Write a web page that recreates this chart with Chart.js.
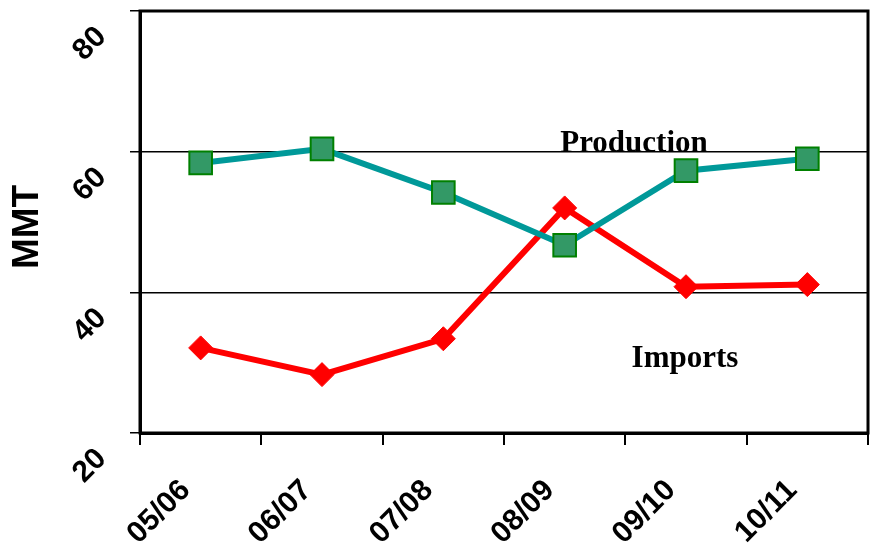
<!DOCTYPE html>
<html>
<head>
<meta charset="utf-8">
<script src="https://cdn.jsdelivr.net/npm/chart.js@4.4.1/dist/chart.umd.min.js"></script>
<style>
  html, body { margin: 0; padding: 0; background: #fff; }
  #wrap { width: 871px; height: 546px; }
</style>
</head>
<body>
<div id="wrap"><canvas id="mmtChart" width="871" height="546"></canvas></div>
<script>
const seasons = ['05/06', '06/07', '07/08', '08/09', '09/10', '10/11'];
const production = [58.4, 60.4, 54.2, 46.7, 57.3, 59.0];
const imports = [32.1, 28.3, 33.4, 52.0, 40.8, 41.1];
const yTicks = [20, 40, 60, 80];

// frame, rotated y labels, axis title and the two series captions
const extras = {
  id: 'extras',
  afterDraw(chart) {
    const { ctx, chartArea: a, scales } = chart;
    ctx.save();
    ctx.strokeStyle = '#000';
    ctx.lineWidth = 3;
    ctx.strokeRect(a.left, a.top, a.right - a.left, a.bottom - a.top);

    ctx.fillStyle = '#000';
    ctx.font = 'bold 30px "Liberation Sans", Arial, sans-serif';
    ctx.textAlign = 'center';
    ctx.textBaseline = 'middle';
    yTicks.forEach(v => {
      const y = scales.y.getPixelForValue(v);
      ctx.save();
      ctx.translate(90, y + 33);
      ctx.rotate(-Math.PI / 4);
      ctx.fillText(String(v), 0, 0);
      ctx.restore();
    });

    ctx.save();
    ctx.font = 'bold 37px "Liberation Sans", Arial, sans-serif';
    ctx.translate(28, 227);
    ctx.rotate(-Math.PI / 2);
    ctx.fillText('MMT', 0, 0);
    ctx.restore();

    ctx.font = 'bold 31px "Liberation Serif", "Times New Roman", serif';
    ctx.textBaseline = 'alphabetic';
    ctx.fillText('Production', 634, 152);
    ctx.fillText('Imports', 685, 367);
    ctx.restore();
  }
};

new Chart(document.getElementById('mmtChart'), {
  type: 'line',
  data: {
    labels: seasons,
    datasets: [
      {
        label: 'Production',
        data: production,
        borderColor: '#009999',
        borderWidth: 6,
        pointStyle: 'rect',
        pointRadius: 16,
        pointBackgroundColor: '#339966',
        pointBorderColor: '#008000',
        pointBorderWidth: 2,
        tension: 0
      },
      {
        label: 'Imports',
        data: imports,
        borderColor: '#ff0000',
        borderWidth: 6,
        pointStyle: 'rectRot',
        pointRadius: 12,
        pointBackgroundColor: '#ff0000',
        pointBorderColor: '#ff0000',
        pointBorderWidth: 1,
        tension: 0
      }
    ]
  },
  options: {
    responsive: false,
    animation: false,
    layout: { autoPadding: false, padding: { left: 0, top: 11, right: 3, bottom: 0 } },
    plugins: {
      legend: { display: false },
      tooltip: { enabled: false }
    },
    scales: {
      x: {
        offset: true,
        afterFit: s => {
          s.height = 113;
          s.paddingLeft = 0;
          s.paddingRight = 0;
        },
        grid: {
          offset: true,
          drawOnChartArea: false,
          drawTicks: true,
          tickLength: 12,
          color: '#000',
          lineWidth: 2
        },
        border: { display: true, color: '#000', width: 3 },
        ticks: {
          color: '#000',
          font: { family: '"Liberation Sans", Arial, sans-serif', size: 30, weight: 'bold' },
          minRotation: 45,
          maxRotation: 45,
          padding: 28,
          labelOffset: -15
        }
      },
      y: {
        min: 20,
        max: 80,
        afterFit: s => {
          s.width = 140;
          s.paddingTop = 0;
          s.paddingBottom = 0;
        },
        afterBuildTicks: s => { s.ticks = yTicks.map(v => ({ value: v })); },
        grid: {
          color: '#000',
          lineWidth: 1.5,
          drawTicks: true,
          tickLength: 10
        },
        border: { display: true, color: '#000', width: 3 },
        ticks: { display: false }
      }
    }
  },
  plugins: [extras]
});
</script>
</body>
</html>
